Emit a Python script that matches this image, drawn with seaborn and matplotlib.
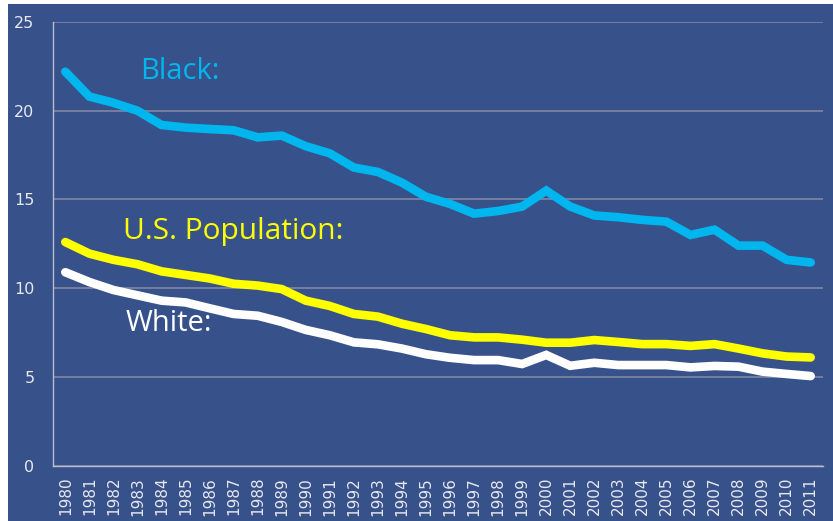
import matplotlib
matplotlib.use("Agg")
import matplotlib.pyplot as plt
import seaborn as sns
import pandas as pd
from matplotlib.patches import Rectangle
from matplotlib.ticker import FixedLocator

years = list(range(1980, 2012))

black = [22.2, 20.8, 20.45, 20.0, 19.2, 19.05, 18.97, 18.9, 18.5, 18.6,
         18.0, 17.6, 16.8, 16.55, 15.95, 15.15, 14.75, 14.2, 14.35, 14.6,
         15.5, 14.6, 14.1, 14.0, 13.85, 13.75, 13.0, 13.3, 12.4, 12.4,
         11.6, 11.45]
us_pop = [12.6, 11.95, 11.6, 11.35, 10.95, 10.75, 10.55, 10.25, 10.15, 9.95,
          9.3, 9.0, 8.55, 8.4, 8.0, 7.7, 7.35, 7.23, 7.23, 7.1,
          6.93, 6.93, 7.08, 6.97, 6.85, 6.85, 6.75, 6.85, 6.6, 6.33,
          6.15, 6.1]
white = [10.9, 10.35, 9.9, 9.6, 9.3, 9.2, 8.87, 8.55, 8.45, 8.1,
         7.65, 7.35, 6.95, 6.84, 6.6, 6.28, 6.08, 5.95, 5.95, 5.73,
         6.24, 5.63, 5.8, 5.67, 5.67, 5.67, 5.54, 5.62, 5.58, 5.3,
         5.17, 5.05]

series_names = ["Black:", "U.S. Population:", "White:"]
series_colors = ["#00B6EF", "#FFFF00", "#FFFFFF"]

df = pd.DataFrame({"year": years, "Black:": black,
                   "U.S. Population:": us_pop, "White:": white})
long_df = df.melt(id_vars="year", var_name="group", value_name="rate")

bg = "#37528B"
grid_col = "#8088A3"
text_col = "#E8E8EE"

sns.set_style("white")
fig = plt.figure(figsize=(8.33, 5.21), dpi=100, facecolor="white")
fig.patches.append(Rectangle((8 / 833, 0), 1, 1 - 4 / 521, transform=fig.transFigure,
                             facecolor=bg, edgecolor="none", zorder=-10))
ax = fig.add_axes([53.3 / 833, 1 - 465.7 / 521, (822.7 - 53.3) / 833, (465.7 - 22) / 521])
ax.set_facecolor(bg)

sns.lineplot(data=long_df, x="year", y="rate", hue="group",
             palette=dict(zip(series_names, series_colors)),
             hue_order=["White:", "U.S. Population:", "Black:"],
             linewidth=6.2, legend=False, ax=ax, solid_capstyle="round",
             solid_joinstyle="miter")

ax.set_xlim(1979.5, 2011.5)
ax.set_ylim(0, 25)
ax.set_yticks([0, 5, 10, 15, 20, 25])
ax.set_xticks(years)
ax.set_xticklabels([str(y) for y in years], rotation=90)
ax.xaxis.set_minor_locator(FixedLocator([y + 0.5 for y in range(1979, 2012)]))
ax.tick_params(axis="x", which="major", length=0, pad=8, labelsize=11, labelcolor=text_col)
ax.tick_params(axis="x", which="minor", length=6, width=1, color="#B8BDD0", direction="out")
ax.tick_params(axis="y", length=5.5, width=1, color="#B8BDD0", labelsize=11.5,
               labelcolor=text_col, pad=8)
ax.set_xlabel("")
ax.set_ylabel("")
ax.grid(axis="y", color=grid_col, linewidth=1.2)
ax.set_axisbelow(True)
for side in ["top", "right"]:
    ax.spines[side].set_visible(False)
for side in ["left", "bottom"]:
    ax.spines[side].set_color("#B8BDD0")
    ax.spines[side].set_linewidth(1)

label_font = ["Comic Sans MS", "Open Sans", "DejaVu Sans"]
ax.text(1983.1, 22.2, "Black:", color=series_colors[0], fontsize=21,
        family=label_font, va="center", ha="left")
ax.text(1982.4, 13.2, "U.S. Population:", color=series_colors[1], fontsize=21.5,
        family=label_font, va="center", ha="left")
ax.text(1982.5, 8.0, "White:", color=series_colors[2], fontsize=21,
        family=label_font, va="center", ha="left")

fig.savefig("out.png", dpi=100, facecolor=fig.get_facecolor())
